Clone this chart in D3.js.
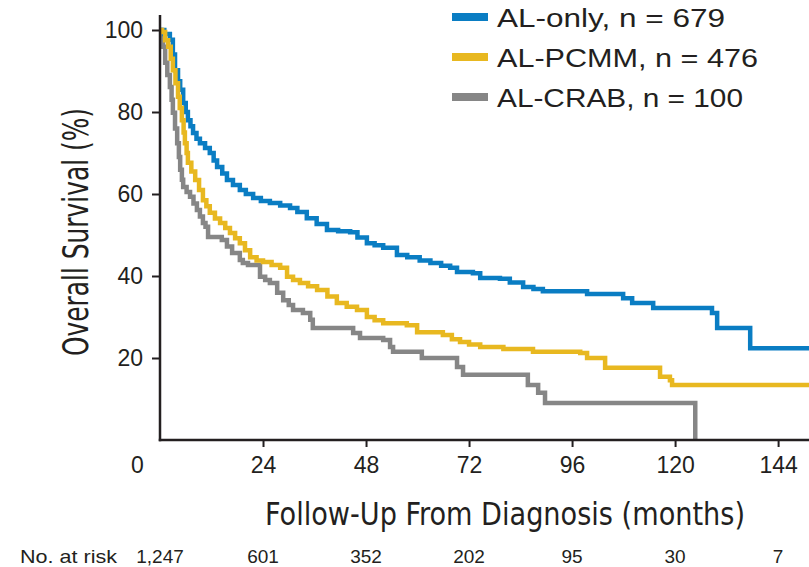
<!DOCTYPE html>
<html>
<head>
<meta charset="utf-8">
<script src="https://cdn.jsdelivr.net/npm/d3@7"></script>
<style>
  html, body { margin: 0; padding: 0; background: #fff; }
  svg { display: block; }
</style>
</head>
<body>
<script>
// ---------- DATA ----------
const seriesNames = ["AL-only, n = 679", "AL-PCMM, n = 476", "AL-CRAB, n = 100"];
const seriesColors = ["#0a7dc3", "#e8b820", "#868686"];

// [month, survival %] step points (value holds from that month on)
const alOnly = [
  [0,100],[1.0,99],[2.3,97.6],[3.0,94],[3.5,90.2],[4.2,87.5],[4.7,85.4],[5.4,82.2],
  [6.0,80],[6.5,78],[7.1,76.5],[7.7,74.9],[8.5,73.5],[9.3,72.4],[10.5,71.2],[11.6,70],
  [12.5,68.2],[13.3,66.6],[14.5,65],[15.6,63.4],[17,62.2],[18.6,61],[20,60],[21.7,59],
  [23.5,58.3],[25.6,57.8],[28,57.2],[30.3,56.6],[32,55.6],[34.2,54.1],[36.5,52.7],
  [38.9,51.2],[41.5,50.9],[44.3,50.7],[46,49.4],[48.2,48],[50,47.5],[52,46.9],
  [55.2,45.1],[57.6,44.6],[60.5,43.8],[63,43.2],[65.5,42.5],[67.6,42],[69.2,41],
  [72.9,40.7],[74.6,39.5],[79.2,39.3],[81.5,38.4],[84.6,37.3],[87,36.8],[89.2,36.3],
  [99.5,35.6],[107.9,34.6],[110,33.4],[114.9,32.2],[128.6,31],[129.8,27.3],[137.5,22.4],
  [151.2,22.4]
];
const alPcmm = [
  [0,100],[0.5,99.5],[1.2,97.5],[1.9,95.9],[2.5,93],[3.0,90.2],[3.6,87],[4.2,83.7],
  [4.6,81],[5.1,78],[5.5,75],[5.8,72.4],[6.2,70],[6.5,67.6],[7.3,65.5],[8.2,63.4],
  [9.1,61],[10,58.5],[10.8,57],[11.6,55.4],[12.8,54],[14,52.9],[15.2,51.7],[16.3,50.5],
  [17.5,49.2],[18.6,48],[19.8,46.3],[21,44.6],[22.5,43.8],[24,43.4],[26,42.7],[28,42],
  [29.6,39.8],[31,39],[32.6,38.3],[34.5,37.5],[36.6,36.6],[39,35],[41.2,33.4],
  [43.5,32.5],[45.9,31.7],[48.2,30],[50,29.2],[52,28.5],[57.5,28],[59.9,26.3],
  [65.9,25.6],[68,24.6],[69.9,23.9],[72,23.3],[74.6,22.7],[80,22.2],[86.9,21.5],
  [97.9,21.2],[99.5,20],[103.7,17.6],[116.5,15.4],[118.8,14.6],[119.3,13.4],[151.2,13.4]
];
const alCrab = [
  [0,100],[0.3,97],[0.7,95.9],[1.2,92],[1.7,89],[2.3,86.1],[2.7,83],[3.0,79.8],
  [3.5,76],[4.0,72.4],[4.4,69],[4.7,65.9],[5.1,63.5],[5.4,61.7],[6.2,60.5],[7,59.3],
  [7.8,57.7],[8.6,56.1],[9.3,54.5],[10,52.9],[10.6,52],[11.2,49.5],[14.4,48.8],
  [15.6,47.2],[16.8,45.6],[18.6,43.9],[19.3,43.2],[20.5,42.7],[23.3,39.8],[24.5,39],
  [25.6,38.3],[27.3,35.9],[28.7,34.1],[30,32.9],[31,31.7],[33.3,31],[35,29.3],
  [35.6,27.3],[45,26.1],[46.6,24.9],[52,24.4],[53.6,22.7],[54.3,21.5],[61,20],
  [69.2,17.8],[70.6,15.9],[85.7,13.4],[88.1,11.5],[89.7,9],[124.7,0]
];

const xTicks = [0, 24, 48, 72, 96, 120, 144];
const yTicks = [20, 40, 60, 80, 100];
const riskLabel = "No. at risk";
const riskTimes = [0, 24, 48, 72, 96, 120, 144];
const riskCounts = ["1,247", "601", "352", "202", "95", "30", "7"];
const xTitle = "Follow-Up From Diagnosis (months)";
const yTitle = "Overall Survival (%)";
const xMaxMonths = 151.2;

// ---------- CHART ----------
(function () {
const W = 809, H = 567;
const mLeft = 160, mRight = 809, mTop = 30, mBottom = 440;
const svg = d3.select("body").append("svg").attr("width", W).attr("height", H);

const x = d3.scaleLinear().domain([0, xMaxMonths]).range([mLeft, mRight]);
const y = d3.scaleLinear().domain([0, 100]).range([mBottom, mTop]);

const sans = "'Liberation Sans', Arial, Helvetica, sans-serif";
const narrow = "'Liberation Sans Narrow', 'DejaVu Sans Condensed', 'Liberation Sans', sans-serif";
const ink = "#231f20";

// Curves
const line = d3.line().x(d => x(d[0])).y(d => y(d[1])).curve(d3.curveStepAfter);
const allSeries = [alOnly, alPcmm, alCrab];
const drawOrder = [2, 0, 1];
drawOrder.forEach(i => {
  svg.append("path")
    .datum(allSeries[i])
    .attr("d", line)
    .attr("fill", "none")
    .attr("stroke", seriesColors[i])
    .attr("stroke-width", 4.5);
});

// Y axis
const yAxis = d3.axisLeft(y).tickValues(yTicks).tickSize(8).tickPadding(9);
const gy = svg.append("g").attr("transform", `translate(${mLeft},0)`).call(yAxis);
gy.select(".domain").remove();
gy.selectAll(".tick line").attr("stroke", ink).attr("stroke-width", 2);
gy.selectAll(".tick text").attr("font-family", sans).attr("font-size", 23).attr("fill", ink);

// X axis
const xAxis = d3.axisBottom(x).tickValues(xTicks).tickSize(7);
const gx = svg.append("g").attr("transform", `translate(0,${mBottom})`).call(xAxis);
gx.select(".domain").remove();
gx.selectAll(".tick line").attr("stroke", ink).attr("stroke-width", 2)
  .filter(d => d === 0).remove();
gx.selectAll(".tick text")
  .attr("font-family", sans).attr("font-size", 23).attr("fill", ink)
  .attr("dy", null).attr("y", 33)
  .attr("x", d => d === 0 ? -23 : 0);

// Axis lines
svg.append("line").attr("x1", mLeft).attr("x2", mLeft).attr("y1", 15).attr("y2", mBottom + 1.25)
  .attr("stroke", ink).attr("stroke-width", 2.5);
svg.append("line").attr("x1", mLeft - 1.25).attr("x2", mRight).attr("y1", mBottom).attr("y2", mBottom)
  .attr("stroke", ink).attr("stroke-width", 2.5);

// Axis titles
svg.append("text").text(xTitle)
  .attr("x", 505).attr("y", 525).attr("text-anchor", "middle")
  .attr("font-family", narrow).attr("font-size", 32).attr("fill", ink)
  .attr("textLength", 480).attr("lengthAdjust", "spacingAndGlyphs");

svg.append("text").text(yTitle)
  .attr("transform", "translate(88,232) rotate(-90)")
  .attr("text-anchor", "middle")
  .attr("font-family", narrow).attr("font-size", 35).attr("fill", ink)
  .attr("textLength", 248).attr("lengthAdjust", "spacingAndGlyphs");

// Risk table
svg.append("text").text(riskLabel)
  .attr("x", 20).attr("y", 563)
  .attr("font-family", sans).attr("font-size", 19).attr("fill", ink)
  .attr("textLength", 97).attr("lengthAdjust", "spacingAndGlyphs");
svg.selectAll(".risk").data(riskTimes).enter().append("text")
  .attr("class", "risk")
  .attr("x", d => x(d)).attr("y", 563).attr("text-anchor", "middle")
  .attr("font-family", sans).attr("font-size", 19).attr("fill", ink)
  .text((d, i) => riskCounts[i]);

// Legend
const legendWidths = [228, 261, 246];
const lg = svg.append("g");
seriesNames.forEach((name, i) => {
  const cy = 17 + i * 40;
  lg.append("rect").attr("x", 452).attr("y", cy - 4).attr("width", 36).attr("height", 8)
    .attr("fill", seriesColors[i]);
  lg.append("text").text(name)
    .attr("x", 497).attr("y", cy + 9.5)
    .attr("font-family", sans).attr("font-size", 26).attr("fill", ink)
    .attr("textLength", legendWidths[i]).attr("lengthAdjust", "spacingAndGlyphs");
});
})();
</script>
</body>
</html>
